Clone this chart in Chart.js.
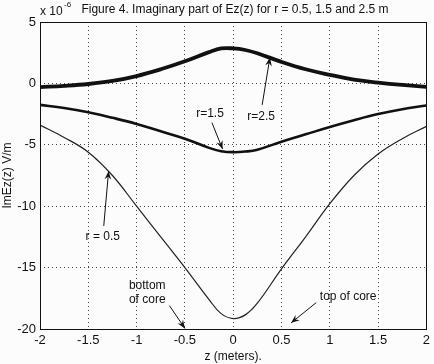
<!DOCTYPE html>
<html>
<head>
<meta charset="utf-8">
<script src="https://cdn.jsdelivr.net/npm/chart.js@4/dist/chart.umd.min.js"></script>
<style>
  html, body { margin: 0; padding: 0; background: #fcfcfc; }
  #wrap { width: 434px; height: 364px; }
</style>
</head>
<body>
<div id="wrap"><canvas id="c" width="434" height="364"></canvas></div>
<script>
// ---- data (values in units of 1e-6 V/m) ----
const zValues = [-2, -1.75, -1.5, -1.25, -1, -0.75, -0.5, -0.25, -0.125, 0, 0.125, 0.25, 0.5, 0.75, 1, 1.25, 1.5, 1.75, 2];
const imEz_r05 = [-3.4, -4.4, -5.6, -7.5, -10.0, -12.5, -15.0, -17.6, -18.75, -19.15, -18.85, -17.9, -15.1, -12.5, -9.8, -7.5, -5.75, -4.5, -3.5];
const imEz_r15 = [-1.75, -2.0, -2.35, -2.8, -3.3, -3.9, -4.5, -5.25, -5.52, -5.6, -5.55, -5.4, -4.75, -4.15, -3.55, -3.0, -2.5, -2.1, -1.8];
const imEz_r25 = [-0.3, -0.2, -0.05, 0.2, 0.6, 1.15, 1.8, 2.55, 2.85, 2.85, 2.72, 2.45, 1.75, 1.15, 0.7, 0.3, 0.07, -0.12, -0.28];
const xTickValues = [-2, -1.5, -1, -0.5, 0, 0.5, 1, 1.5, 2];
const yTickValues = [5, 0, -5, -10, -15, -20];

// annotation texts anchored in data coordinates
const noteTexts = [
  { lines: ['r=2.5'], at: [0.29, -2.7], tail: [0.30, -1.75], tip: [0.38, 2.1] },
  { lines: ['r=1.5'], at: [-0.24, -2.45], tail: [-0.22, -3.2], tip: [-0.11, -5.35] },
  { lines: ['r = 0.5'], at: [-1.35, -12.45], tail: [-1.34, -11.6], tip: [-1.29, -7.15] },
  { lines: ['bottom', 'of core'], at: [-0.89, -16.45], tail: [-0.66, -18.1], tip: [-0.50, -19.95] },
  { lines: ['top of core'], at: [1.19, -17.35], tail: [0.86, -17.85], tip: [0.60, -19.5] }
];

const FONT = '"Liberation Sans", Arial, sans-serif';

function toPoints(ys) { return zValues.map((z, i) => ({ x: z, y: ys[i] })); }

const frame = {
  id: 'frame',
  beforeDraw(chart) {
    const { ctx } = chart;
    ctx.save();
    ctx.fillStyle = '#fcfcfc';
    ctx.fillRect(0, 0, chart.width, chart.height);
    ctx.restore();
  },
  afterDraw(chart) {
    const { ctx, chartArea: a, scales } = chart;
    ctx.save();
    ctx.strokeStyle = '#111';
    ctx.lineWidth = 1;
    ctx.strokeRect(Math.round(a.left) + 0.5, Math.round(a.top) + 0.5, Math.round(a.right - a.left), Math.round(a.bottom - a.top));

    // title
    ctx.fillStyle = '#111';
    ctx.font = '12px ' + FONT;
    ctx.textAlign = 'center';
    ctx.textBaseline = 'middle';
    ctx.fillText('Figure 4. Imaginary part of Ez(z) for r = 0.5, 1.5 and 2.5 m', 235, 10);
    // exponent
    ctx.textAlign = 'left';
    ctx.font = '12px ' + FONT;
    ctx.fillText('x 10', 40, 12);
    ctx.font = '8px ' + FONT;
    ctx.fillText('-6', 64, 5);

    // annotations
    const xs = scales.x, ys = scales.y;
    ctx.font = '12px ' + FONT;
    ctx.textAlign = 'center';
    noteTexts.forEach(n => {
      const px = xs.getPixelForValue(n.at[0]);
      const py = ys.getPixelForValue(n.at[1]);
      n.lines.forEach((t, i) => ctx.fillText(t, px, py + i * 14));
      const x1 = xs.getPixelForValue(n.tail[0]), y1 = ys.getPixelForValue(n.tail[1]);
      const x2 = xs.getPixelForValue(n.tip[0]), y2 = ys.getPixelForValue(n.tip[1]);
      ctx.strokeStyle = '#111';
      ctx.lineWidth = 1;
      ctx.beginPath(); ctx.moveTo(x1, y1); ctx.lineTo(x2, y2); ctx.stroke();
      const ang = Math.atan2(y2 - y1, x2 - x1);
      const L = 9, W = 0.38;
      ctx.beginPath();
      ctx.moveTo(x2, y2);
      ctx.lineTo(x2 - L * Math.cos(ang - W), y2 - L * Math.sin(ang - W));
      ctx.lineTo(x2 - L * 0.6 * Math.cos(ang), y2 - L * 0.6 * Math.sin(ang));
      ctx.lineTo(x2 - L * Math.cos(ang + W), y2 - L * Math.sin(ang + W));
      ctx.closePath();
      ctx.fill();
    });
    ctx.restore();
  }
};

new Chart(document.getElementById('c'), {
  type: 'line',
  data: {
    datasets: [
      { label: 'r = 0.5', data: toPoints(imEz_r05), borderColor: '#222', borderWidth: 1.2 },
      { label: 'r = 1.5', data: toPoints(imEz_r15), borderColor: '#111', borderWidth: 2.6 },
      { label: 'r = 2.5', data: toPoints(imEz_r25), borderColor: '#111', borderWidth: 3.8 }
    ]
  },
  options: {
    responsive: false,
    animation: false,
    layout: { padding: { top: 22, right: 3, left: 0, bottom: 0 } },
    elements: { point: { radius: 0 }, line: { tension: 0.4, fill: false } },
    plugins: { legend: { display: false }, tooltip: { enabled: false } },
    scales: {
      x: {
        type: 'linear', min: -2, max: 2,
        afterBuildTicks: s => { s.ticks = xTickValues.map(v => ({ value: v })); },
        afterFit: s => { s.height = 35; },
        grid: { color: '#444', drawTicks: false, lineWidth: 1 },
        border: { display: false, dash: [1, 3] },
        ticks: { color: '#111', font: { family: FONT, size: 13 }, padding: 4, maxRotation: 0,
                 callback: v => String(v) },
        title: { display: true, text: 'z (meters).', color: '#111', font: { family: FONT, size: 12 }, padding: { top: 0, bottom: 0 } }
      },
      y: {
        type: 'linear', min: -20, max: 5,
        afterBuildTicks: s => { s.ticks = yTickValues.map(v => ({ value: v })); },
        afterFit: s => { s.width = 40; },
        grid: { color: '#444', drawTicks: false, lineWidth: 1 },
        border: { display: false, dash: [1, 3] },
        ticks: { color: '#111', font: { family: FONT, size: 13 }, padding: 4, callback: v => String(v) },
        title: { display: true, text: 'ImEz(z) V/m', color: '#111', font: { family: FONT, size: 12 }, padding: { top: 0, bottom: 0 } }
      }
    }
  },
  plugins: [frame]
});
</script>
</body>
</html>
